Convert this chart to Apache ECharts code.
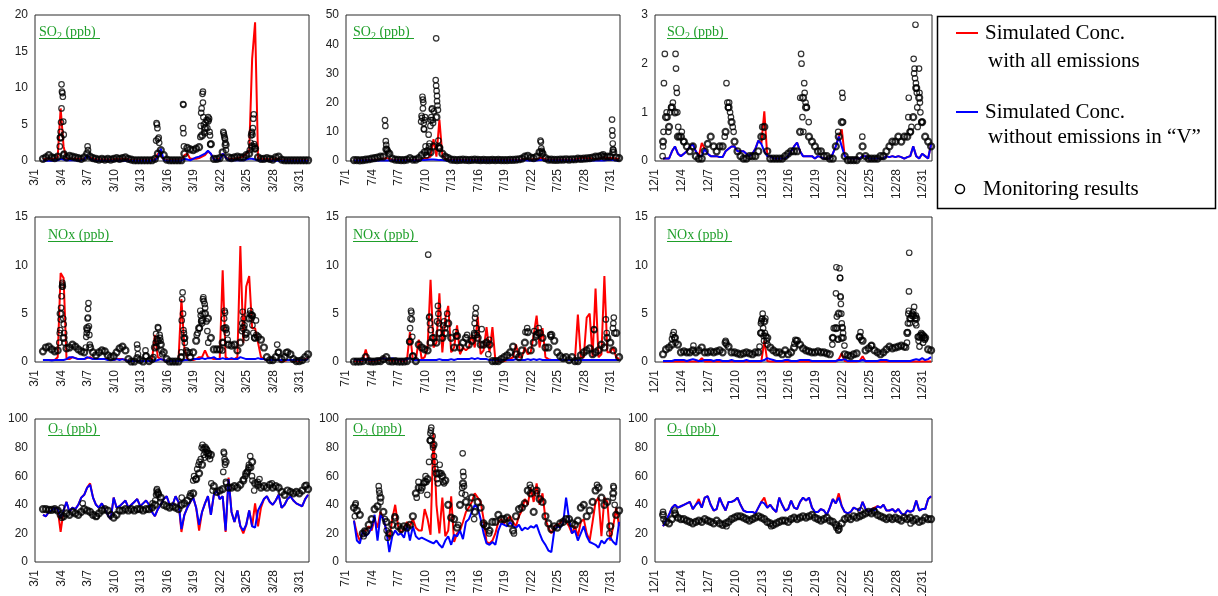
<!DOCTYPE html>
<html>
<head>
<meta charset="utf-8">
<script src="https://cdn.jsdelivr.net/npm/echarts@6/dist/echarts.min.js"></script>
<style>
html, body { margin: 0; padding: 0; background: #fff; }
#chart { width: 1218px; height: 596px; }
</style>
</head>
<body>
<div id="chart"></div>
<script>
// one value every 8 hours, first value 0.9 day after the 1st of the month
const T0 = 0.9
const DT = 1 / 3

// ---- SO2 ----
const so2MarObs = [.3,.5,.8, .5,.4,.6, 3.2,.8,.5, .7,.6,.5, .4,.3,.5, 1,.6,.4, .3,.2,.3, .2,.3,.2, .3,.4,.3, .4,.5,.3,
  .2,.1,.1, .1,.1,.1, .1,.1,.3, 1,1.5,.8, .2,.1,.1, .1,.1,.1, 1,1.8,1.6, 1.5,1.7,1.9, 3.5,4.5,5.5, 2.3,.3,.3,
  .4,1.2,2.2, .5,.4,.5, .6,.5,.5, .8,1,2, 1.7,.5,.3, .3,.4,.3, .2,.5,.6, .2,.1,.1, .1,.1,.1, .1,.1,.1, .1]
const so2MarPeaks = [[2.8,2],[2.85,3.2],[2.9,4],[2.95,5.3],[3,7.2],[3,10.5],[3.05,9.5],[3.1,9.3],[3.15,8.8],[3.2,5.4],[3.25,3.6],[3.3,1],
  [5.95,2],[6,1.5],
  [13.7,2.8],[13.75,5.2],[13.8,5],[13.85,4.5],[13.9,3],[14,3.2],[14.05,2.5],
  [16.75,7.8],[16.8,7.7],[16.75,4.5],[16.8,3.8],[16.85,2],
  [18.7,3.3],[18.75,4.8],[18.8,6.6],[18.85,7.2],[18.95,9.2],[19,9.5],[19,8],[19.05,6],[19.1,5],[19.15,4],[19.2,3.8],[19.3,5.3],[19.4,5.6],[19.5,4.5],[19.6,6],[19.7,5.8],[19.75,4],[19.8,3.5],[19.85,2.3],
  [21.3,4],[21.35,3.8],[21.4,3.5],[21.45,3.2],[21.5,3],[21.55,2.5],[21.6,1.5],
  [24.3,1.5],[24.4,2.5],[24.45,3.5],[24.5,3.8],[24.55,4],[24.6,3.6],[24.65,4.5],[24.7,5.8],[24.75,6.4],[24.8,2.3],[24.85,2],[24.9,1.7]]
const so2MarAll = [.2,.3,.3, .3,.3,.5, 7.2,2,.3, .3,.3,.3, .3,.2,.3, .6,.5,.3, .2,.2,.2, .2,.2,.2, .2,.3,.2, .3,.3,.2,
  .1,.1,.1, .1,.1,.1, .1,.1,.2, 1,.8,.2, .1,.1,.1, .1,.1,.1, .8,1,.3, .3,.3,.4, .6,.8,1.3, 1,.2,.2,
  .3,1,.5, .3,.3,.3, .4,.5,.6, 1,1.3,14, 19,.4,.3, .2,.3,.2, .2,.3,.3, .1,.1,.1, .1,.1,.1, .1,.1,.1, .1]
const so2MarNoV = [.05,.05,.05, .05,.1,.1, .3,.2,.1, .1,.1,.1, .05,.1,.2, .8,.3,.1, .05,.05,.05, .05,.05,.05, .05,.05,.05, .05,.05,.05,
  .05,.05,.05, .05,.05,.05, .05,.05,.1, .5,1.7,.1, .05,.05,.05, .05,.05,.05, .3,.2,.1, .3,.5,.6, .8,1,1.4, 1,.2,.1,
  .1,1,.5, .1,.1,.1, .1,.1,.1, .2,.3,.3, .2,.1,.05, .05,.05,.05, .05,.05,.05, .05,.05,.05, .05,.05,.05, .05,.05,.05, .05]

const so2JulObs = [.3,.3,.2, .3,.5,.6, .8,1,1.2, 1.5,1.5,4, 2.5,.8,.5, .4,.3,.3, .5,1,.5, .5,1,2, 3,3.5,3, 5,15,4.5,
  2.5,1.5,1, .5,.4,.3, .4,.5,.4, .3,.4,.5, .4,.3,.4, .3,.3,.4, .3,.4,.3, .3,.3,.4, .4,.5,.6, .8,1.5,1.8,
  1.2,1,1.5, 3,2.5,1, .5,.5,.4, .4,.5,.5, .6,.5,.6, .6,.8,.7, .8,.9,1, 1.2,1.5,1.5, 1.8,1.5,1.5, 1.5,3,1.2, 1]
const so2JulPeaks = [[4.4,14],[4.45,12],[4.5,6.8],[4.55,5.5],[4.6,4],[4.7,3.5],[4.8,3],
  [8.5,13.5],[8.55,15.5],[8.6,14.8],[8.65,22],[8.7,21],[8.7,18],[8.75,20],[8.8,13],[8.8,11],[8.85,10.8],[8.9,14],[8.95,15],[9,5],[9.1,2],
  [9.35,9],[9.4,5],[9.45,6],[9.55,12],[9.6,14],[9.65,15],[9.7,17.7],[9.75,18],[9.8,14],[9.85,13],[9.95,17],
  [10.15,27.7],[10.2,42],[10.2,25.8],[10.25,24],[10.3,22.3],[10.3,20.5],[10.35,19],[10.4,17.5],[10.45,7],[10.5,5],[10.55,4.5],[10.6,4.3],
  [22,7],[22.05,6.5],[22.1,4.3],[22.15,3.5],[22.2,3],
  [29.1,2.3],
  [30.1,14.2],[30.12,10.5],[30.15,8.7],[30.18,6],[30.2,4],[30.25,3.8]]
const so2JulAll = [.2,.2,.2, .2,.3,.3, .3,.4,.5, .6,.8,1, .8,.4,.3, .3,.3,.3, .3,.3,.3, .3,.4,.5, .8,1,1.5, 7.5,1.5,14.2,
  2,.8,.5, .3,.3,.3, .3,.3,.3, .3,.3,.3, .3,.3,.3, .3,.3,.3, .3,.3,.3, .3,.3,.3, .3,.3,.3, .5,.8,.6,
  .5,.6,.5, 1,1,.6, .4,.4,.4, .4,.4,.4, .4,.4,.4, .5,.8,1, 1.2,.8,1, .8,.6,.8, 1,1.2,1, 1,1,.8, .8]
const so2JulNoV = [.2,.2,.2, .2,.2,.2, .2,.2,.2, .2,.2,.2, .2,.2,.2, .2,.2,.2, .2,.2,.2, .2,.2,.3, .3,.4,.5, .5,.4,.3,
  .3,.2,.2, .2,.2,.2, .2,.2,.2, .2,.2,.2, .2,.2,.2, .2,.2,.2, .2,.2,.2, .2,.2,.2, .2,.2,.2, .2,.3,.2,
  .2,.2,.2, .4,.3,.2, .2,.2,.2, .2,.2,.2, .2,.2,.2, .2,.2,.2, .2,.2,.2, .2,.2,.2, .2,.2,.3, .3,.3,.2, .2]

const so2DecObs = [.4,.9,.7, 1.1,1,.5, .5,.4,.3, .2,.3,.1, .05,.05,.2, .35,.5,.3, .2,.3,.3, .6,1.1,.8, .4,.2,.1, .05,.05,.1,
  .1,.1,.2, .5,.7,.2, .05,.05,.05, .05,.05,.1, .15,.2,.2, .2,.6,1.3, 1.1,.5,.4, .3,.2,.2, .1,.1,.05, .05,.3,.5,
  .8,.1,.02, .02,.02,.02, .1,.3,.1, .05,.05,.05, .05,.1,.1, .2,.3,.4, .4,.5,.4, .5,.5,.6, .9,1.5,1.3, .8,.5,.4, .3]
const so2DecPeaks = [[0.85,.1],[0.9,.3],[0.95,.6],[1,1.6],[1.1,2.2],[1.3,1],[1.4,.9],[1.5,.6],[1.7,1],[1.8,1.1],[2,1.2],[2.3,2.2],[2.35,1.9],[2.4,1.5],[2.45,1.4],[2.5,1],[2.6,.7],[2.7,.5],[3,.6],[3.2,.4],
  [7.8,.5],[8,1.6],[8.1,1.2],[8.2,1.1],[8.3,1.2],[8.4,1],[8.5,.9],[8.7,.7],[8.8,.6],
  [12,.7],[12.1,.5],
  [16.25,1.3],[16.35,2.2],[16.4,2],[16.5,.9],[16.6,.6],[16.7,1.6],[16.75,1.4],[16.85,1.2],[17,1.1],[17.2,.8],
  [20.5,.6],[20.95,1.4],[21,1.3],[21.05,.8],
  [23.2,.5],
  [28.35,.9],[28.4,1.3],[28.6,.6],[28.7,.7],[28.95,2.1],[29,1.8],[29.05,1.9],[29.1,1.7],[29.15,2.8],[29.2,1.6],[29.25,1.5],[29.3,1.4],[29.35,1.1],[29.4,.7],[29.55,1.9],[29.6,1.4],[29.65,1.2],[29.7,1],[29.8,.8],[29.9,.8]]
const so2DecAll = [.05,.05,.05, .2,.3,.15, .1,.15,.2, .3,.35,.2, .1,.37,.25, .15,.1,.1, .1,.08,.08, .2,.25,.3, .3,.2,.2, .2,.15,.1,
  .15,.25,.42, .35,1.02,.1, .1,.05,.05, .05,.05,.05, .1,.2,.3, .38,.2,.1, .1,.1,.1, .05,.1,.08, .05,.05,.05, .15,.3,.5,
  .65,.1,.05, .05,.05,.05, .05,.1,.1, .05,.05,.05, .05,.05,.05, .1,.08,.1, .08,.1,.08, .05,.08,.1, .3,.1,.05, .15,.1,.05, .35]
const so2DecNoV = [.05,.05,.05, .2,.3,.15, .1,.15,.2, .3,.35,.2, .1,.1,.25, .15,.1,.1, .1,.08,.08, .2,.25,.3, .3,.2,.2, .2,.15,.1,
  .15,.25,.42, .35,.2,.1, .1,.05,.05, .05,.05,.05, .1,.2,.3, .38,.2,.1, .1,.1,.1, .05,.1,.08, .05,.05,.05, .15,.3,.5,
  .3,.1,.05, .05,.05,.05, .05,.1,.1, .05,.05,.05, .05,.05,.05, .1,.08,.1, .08,.1,.08, .05,.08,.1, .3,.1,.05, .15,.1,.05, .35]

// ---- NOx ----
const noxMarObs = [1.1,1.5,1.6, 1.3,1.1,1.2, 5,2.5,1.4, 1.5,1.8,1.6, 1.3,1.1,1, 3.5,1.5,1, .7,1,1.2, 1.1,.7,.5, .6,1,1.4, 1.6,1.2,.3,
  .05,.05,.4, .2,.05,.6, .1,.3,1.5, 2.2,1.8,1, .3,.05,.05, .05,.05,.5, 2.5,1,.5, 1,2.2,3.5, 4.3,5,4.5, 2.5,1.3,1.3,
  1.3,2,3.5, 1.8,1.7,1.8, 1.2,2,3.5, 3,4.5,4.8, 2.5,2.6,2.3, 1.5,.5,.2, .2,.5,1, .3,.5,1, .8,.3,.1, .1,.2,.5, .8]
const noxMarPeaks = [[2.75,2],[2.8,3],[2.85,3.3],[2.9,4.4],[2.95,5.6],[3,6.8],[3.05,7.8],[3.1,8],[3.1,8.2],[3.15,7.8],[3.2,4.5],[3.25,3.9],[3.3,3],[3.35,2],
  [5.75,1.5],[5.8,2.6],[5.85,3],[5.9,3.3],[5.95,4.5],[6,4.6],[6,5.5],[6.05,6.1],[6.1,3.7],[6.15,2.8],[6.2,1.8],
  [11.55,1.8],[11.6,1.4],[11.65,.8],[12.5,1.2],[12.55,.6],[13.4,.5],
  [13.65,2],[13.7,2.9],[13.75,1.6],[13.8,2.4],[13.9,3.6],[13.95,3.5],[14.1,2.8],[14.15,2.5],[14.2,2.2],[14.3,1.2],[14.4,.8],
  [16.5,.5],[16.55,1],[16.6,4.3],[16.65,6.5],[16.7,7.2],[16.75,5],[16.8,3.3],[16.85,3],[16.9,2.4],[16.95,2],[17.1,1.2],[17.5,1],
  [18.3,2.8],[18.4,3],[18.6,3.5],[18.7,5.3],[18.75,4.8],[18.8,4.2],[18.9,4],[18.95,5],[19,6.5],[19.05,6.7],[19.1,6.3],[19.2,6],[19.25,5.6],[19.4,4.2],[19.5,3.2],[19.6,2],
  [21.2,1.2],[21.3,2],[21.35,3.5],[21.4,4.5],[21.45,5.3],[21.5,5.1],[21.6,3.3],[21.7,3],[21.8,2.3],
  [23.4,3.2],[23.45,4],[23.5,5.2],[23.6,4.5],[23.7,3.8],[23.8,2.8],[23.9,2.5],[24.3,5],[24.35,5.3],[24.45,4.9],[24.5,4.5],[24.55,4.8],[24.6,3.8],[24.7,3],[24.8,2.5],[25,4.3],[25.05,2.8],
  [27.4,1.8],[27.5,1],[28.4,1]]
const noxMarAll = [.2,.2,.2, .2,.2,.5, 9.2,8.7,.3, .3,.5,.4, .3,.3,.3, .4,.5,.3, .3,.3,.3, .3,.3,.2, .2,.3,.3, .3,.2,.1,
  .1,.1,.1, .1,.1,.1, .1,.2,2.8, .5,.3,.2, .1,.1,.1, .1,.1,6.5, 1.5,.3,.2, .2,.3,.5, .5,1.2,.5, .4,.3,.3,
  .3,9.5,.5, .3,.3,.3, .5,12,2, 7.8,8.9,3.5, 3.5,2,.5, .3,.2,.2, .2,.2,.2, .1,.1,.2, .2,.1,.1, .1,.2,.3, .4]
const noxMarNoV = [.2,.2,.2, .15,.2,.2, .2,.2,.3, .5,.5,.4, .3,.3,.3, .5,.4,.3, .3,.3,.3, .3,.2,.2, .2,.3,.2, .3,.2,.1,
  .1,.1,.1, .1,.1,.1, .1,.1,.1, .2,.3,.2, .1,.1,.1, .1,.1,.1, .2,.2,.2, .3,.3,.3, .4,.3,.4, .4,.5,.3,
  .3,.4,.3, .3,.4,.3, .3,.5,.4, .3,.3,.3, .3,.4,.3, .3,.2,.2, .2,.2,.2, .2,.2,.2, .2,.2,.2, .2,.2,.2, .3]

const noxJulObs = [.05,.05,.05, .1,.5,.1, .05,.05,.1, .1,.3,.5, .1,.05,.1, .05,.05,.05, .1,2.1,.6, .1,1.8,1.5, 1.3,1.2,2, 2.5,2,3,
  2.5,3,4, 2.5,1.5,2.7, 1.5,2,2.5, 1.8,2.2,2.8, 2.5,1.8,1.8, 2,1.8,.1, .1,.1,.3, .5,.7,1, 1.6,.8,.5, 1.2,2,3.1,
  1.2,2,2.8, 3,2.5,1.5, 1.5,2.8,2.2, 1,.6,.4, .5,.2,.5, .1,.1,.7, 1,1.2,1.4, .8,1,1.2, 1.8,1.5,2.5, 2,1.2,3, .5]
const noxJulPeaks = [[7.2,2.1],[7.25,3.5],[7.3,4.5],[7.35,5.3],[7.4,5.1],[7.45,4.4],[7.5,2.6],[7.55,.6],
  [9.3,11.1],[9.4,4.6],[9.45,4.7],[9.5,4],[9.6,3.3],[9.75,2.5],
  [10.3,4.2],[10.4,5.8],[10.45,5],[10.5,4],[11,3.8],[11.1,4.2],[11.2,3.5],[11.45,5],
  [12.4,3.1],[12.5,2.7],[13.7,2.8],
  [14.5,3],[14.55,4],[14.6,4.6],[14.65,5],[14.7,5.6],[14.75,3.5],[14.8,2.8],[15.35,3.4],[16.1,.8],[16.2,2.3],
  [20.3,3.1],[20.5,3.5],[21.3,3.2],[21.5,2.6],[21.7,3],[21.8,3.5],[23.1,2.8],[23.2,2.6],
  [28.05,3.4],[28.1,3.3],[29.4,4.4],[29.5,3],[30.2,3.5],[30.25,4],[30.3,4.6],[30.35,3]]
const noxJulAll = [.1,.1,.1, .1,1.3,.1, .1,.1,.2, .2,.5,.2, .2,.1,.2, .2,.1,.1, .2,3.1,.2, .2,2.3,.3, .5,1.5,8.5, 1.5,2,7.1,
  1,4.5,5.8, 1,1.5,3.8, .8,1.5,1.2, 1.5,2.8,1.5, 4.7,.8,1.2, 3.6,1,3.6, .2,.1,.1, .1,.2,.3, .5,1.8,.5, .5,1.5,.8,
  1,2.8,4.8, 1.5,3.5,.5, .3,.2,.2, .2,.2,.2, .2,.2,.2, .2,4.9,.5, .5,4.6,5, .5,7.6,.5, .8,8.9,1, 1,1.5,.5, .3]
const noxJulNoV = [.3,.2,.2, .2,.3,.2, .2,.2,.3, .3,.4,.3, .3,.4,.3, .2,.3,.2, .3,.4,.2, .2,.2,.2, .2,.2,.2, .2,.2,.3,
  .2,.2,.2, .3,.2,.3, .3,.3,.3, .3,.4,.3, .4,.3,.3, .3,.2,.2, .2,.2,.2, .2,.2,.2, .2,.3,.2, .2,.2,.3,
  .2,.3,.2, .3,.2,.2, .2,.2,.2, .2,.2,.2, .2,.2,.2, .2,.2,.2, .2,.2,.2, .2,.2,.2, .2,.2,.2, .2,.2,.2, .2]

const noxDecObs = [.8,1.3,1.5, 1.8,2.5,1.8, 1,1.1,1, 1,1.2,1, 1.2,1.5,1, 1,1.1,1, 1.1,1.2,1, 2,1.6,1, 1,.9,.8, .9,1,.9,
  .8,1,1, 3,4.2,2.5, 1.5,1.2,1, 1,.8,1.2, .8,1,1.5, 2.2,1.8,1.4, 1.2,1.1,1, 1,1.1,1, 1,.9,.8, 2.5,3.5,5,
  2.5,.8,.7, .6,.8,.9, 2.6,2.2,1.2, 1.4,1.7,1.2, 1,.8,1, 1.3,1.6,1.4, 1.5,1.6,1.7, 1.6,3,4.5, 4.8,4.5,2.6, 2.8,2.5,1.3, 1.2]
const noxDecPeaks = [[1.9,2.4],[2,2.8],[2.1,3.1],[2.2,2.5],[2.3,2],[4.3,1.7],[7.9,2.2],[8,1.8],
  [11.7,1.6],[11.8,3],[11.85,4],[11.9,4.2],[11.95,4.4],[12,4.5],[12.05,5],[12.1,3.5],[12.15,2.7],[12.2,2.2],[12.3,3],[12.35,4.5],[12.4,2.7],[12.5,2.2],[12.6,1.8],
  [15.6,1.9],[15.7,2.3],[15.8,2.2],
  [19.85,1.8],[19.9,2.5],[20,3.5],[20.25,7.1],[20.3,9.8],[20.35,4.7],[20.4,3.5],[20.45,2.4],[20.5,2.3],[20.65,9.7],[20.7,8.7],[20.72,8.7],[20.75,6.8],[20.78,6.7],[20.8,6],[20.85,5],[20.9,4],[20.95,3.6],[21,3.5],[21.05,3],[21.1,2.5],[21.2,1.7],
  [22.9,2.6],[23,3.1],[23.1,2.3],[24.2,1.7],
  [28.1,1.5],[28.2,2],[28.25,3.1],[28.3,4],[28.35,5],[28.4,5.3],[28.42,7.3],[28.45,11.3],[28.5,4],[28.6,4.5],[28.7,4.8],[28.8,5],[28.9,5.2],[29,5.7],[29.1,4.5],[29.15,4],[29.2,4.8],[29.25,3.8],
  [29.4,2.6],[29.5,2.2],[29.6,1.6],[29.7,2.8],[29.8,3],[29.9,2.5],[30,2],[30.1,2.7],[30.15,2.5],[30.2,2.3]]
const noxDecAll = [.05,.05,.05, .05,.05,.05, .05,.05,.05, .05,.05,.05, .05,.4,.05, .05,.05,.05, .05,.05,.05, .05,.05,.05, .05,.05,.05, .05,.05,.05,
  .05,.05,.05, .05,2.2,.1, .05,.05,.05, .05,.05,.05, .05,.05,.05, .05,.05,.05, .05,.05,.05, .05,.05,.05, .05,.05,.05, .05,.05,.3,
  .9,.1,.05, .05,.05,.05, .1,.6,.05, .05,.05,.05, .05,.05,.05, .05,.05,.05, .05,.05,.05, .05,.05,.05, .05,.05,.05, .05,.05,.05, .05]
const noxDecNoV = [.1,.1,.1, .1,.2,.2, .2,.2,.1, .2,.3,.2, .1,.1,.2, .2,.2,.1, .2,.2,.1, .1,.1,.2, .1,.1,.1, .1,.2,.1,
  .1,.1,.1, .1,.2,.4, .3,.2,.1, .1,.1,.2, .2,.1,.1, .1,.2,.2, .2,.2,.1, .1,.1,.1, .1,.1,.1, .1,.1,.2,
  .2,.3,.1, .1,.1,.1, .1,.2,.1, .1,.1,.1, .1,.2,.2, .2,.1,.1, .1,.1,.1, .1,.1,.1, .2,.3,.2, .4,.2,.3, .5]

// ---- O3 ----
const o3MarObs = [37,37,36.5, 36.5,37,36, 33,32,34, 33,35,34, 33,35,37, 36,35,33, 32,34,36, 37,36,33, 31,33,36, 36,37,36,
  37,36,37, 37,36,37, 37,38,40, 48,45,40, 39,38,39, 38,37,40, 41,43,46, 48,58,62, 68,80,76, 75,53,49,
  50,51,70, 52,52,53, 52,54,57, 62,66,70, 55,54,52, 53,52,54, 52,53,52, 49,47,50, 49,48,49, 48,50,53, 51]
const o3MarPeaks = [[3,38],[3.05,31],[5.4,41],[7,32],[13.3,41],[13.6,43],[13.7,47],[13.75,50],[13.8,51],[13.9,49],[14,47],[14.2,42],
  [16.6,45],[17.6,48],[17.9,57],[18,60],[18.2,58],[18.35,65],[18.5,68],[18.6,70],[18.75,72],[18.85,80],[18.95,82],[19.05,79],[19.1,75],[19.2,73],[19.3,77],[19.4,79],[19.5,78],[19.6,74],[19.7,76],[19.8,72],[19.95,55],[20.1,50],
  [21.3,63],[21.35,77],[21.4,76],[21.45,72],[21.5,68],[21.6,56],[21.65,55],
  [23.6,58],[23.8,60],[24,63],[24.1,64],[24.2,68],[24.35,74],[24.45,66],[24.55,60],[24.6,57],[24.8,50],[25.2,56],[25.4,58],
  [26.8,55],[30.7,54]]
const o3MarAll = [33,32,35, 36,38,37, 21,36,42, 35,38,37, 40,45,47, 52,55,45, 40,38,41, 37,33,30, 45,38,39, 41,43,38,
  40,42,44, 39,41,43, 40,35,32, 37,40,44, 46,40,40, 46,42,21, 33,38,42, 45,38,22, 35,41,46, 33,47,50,
  44,46,21, 59,35,28, 36,25,20, 26,36,25, 41,25,38, 44,46,42, 40,43,47, 38,40,44, 46,43,41, 40,39,44, 47]
const o3MarNoV = [33,32,35, 36,38,37, 31,36,42, 35,38,37, 40,45,47, 52,54,45, 40,38,41, 37,33,30, 45,38,39, 41,43,38,
  40,42,44, 39,41,43, 40,35,32, 37,40,44, 46,40,40, 46,42,23, 33,38,42, 45,38,26, 35,41,46, 33,47,50,
  44,46,22, 58,35,28, 36,25,22, 26,36,25, 24,36,40, 44,46,42, 40,43,47, 38,40,44, 46,43,41, 40,39,44, 47]

const o3JulObs = [38,36,33, 20,21,26, 30,37,39, 45,35,28, 20,26,31, 25,23,25, 24,26,32, 48,52,52, 56,58,85, 82,62,62,
  60,57,40, 31,30,24, 40,55,42, 38,45,35, 42,38,27, 25,22,28, 28,33,30, 30,31,27, 22,32,37, 38,41,50,
  48,35,50, 44,42,32, 27,23,25, 24,27,28, 30,30,27, 26,29,38, 40,32,36, 42,50,52, 45,40,42, 25,48,33, 36]
const o3JulPeaks = [[1,32],[1.05,40],[1.1,41],[2,18],[2.1,22],[3.7,53],[3.75,50],[3.8,48],[3.9,42],[4.4,30],[4.6,22],[4.7,17],[5.5,32],
  [8,45],[8.2,56],[8.5,50],[8.8,55],[9,60],[9.1,56],[9.2,47],[9.4,70],[9.5,85],[9.55,90],[9.6,92],[9.65,94],[9.8,88],[9.85,80],[9.95,74],[10.05,70],[10.1,65],[10.3,58],[10.4,55],[10.6,68],[10.8,62],[11,56],[11.1,55],
  [12.7,26],[13.1,48],[13.15,52],[13.2,76],[13.25,63],[13.3,60],[13.35,53],[13.5,47],
  [14.5,30],[15.6,26],[16.2,20],[19,20],[20.8,54],[20.9,52],[21.6,48],
  [28.4,54],[29.8,20],[30.2,45],[30.25,53],[30.3,52],[30.4,40]]
const o3JulAll = [29,20,15, 20,22,25, 22,30,24, 35,30,22, 16,30,40, 25,20,24, 28,25,30, 24,22,22, 37,30,19, 90,40,20,
  45,18,22, 46,14,20, 22,28,35, 38,42,48, 45,42,30, 14,13,15, 20,28,30, 27,30,32, 28,25,32, 36,44,40,
  52,42,55, 40,48,30, 24,20,25, 26,27,30, 28,25,20, 25,18,28, 30,20,15, 28,42,45, 18,45,42, 15,25,38, 25]
const o3JulNoV = [29,15,13, 22,18,20, 24,33,15, 33,30,22, 7,18,22, 19,20,17, 26,15,25, 18,16,17, 16,15,14, 13,15,12,
  10,15,18, 12,19,18, 22,16,28, 30,35,40, 38,30,20, 13,12,14, 12,22,27, 26,25,28, 25,24,26, 22,24,23,
  25,24,26, 20,15,12, 8,7,22, 25,24,27, 45,30,20, 22,15,20, 25,18,14, 13,12,10, 15,13,16, 17,14,12, 28]

const o3DecObs = [33,28,27, 30,34,31, 30,30,29, 28,27,28, 29,28,30, 29,28,27, 29,27,26, 27,28,30, 31,32,32, 31,30,29,
  30,31,32, 31,30,28, 27,26,27, 28,29,29, 28,30,31, 30,31,32, 31,32,33, 31,30,29, 30,31,29, 28,26,23,
  27,30,31, 30,32,31, 32,33,34, 35,34,35, 33,32,31, 30,31,30, 31,30,29, 31,30,31, 29,30,28, 29,31,30, 30]
const o3DecPeaks = [[0.9,35],[0.95,30],[2.2,36],[2.3,33],[8,25],[13,25],[20.3,24],[20.5,22],[20.6,25],[23,36],[24.5,36],[28.6,27]]
const o3DecAll = [25,29,33, 38,40,38, 39,40,41, 42,37,40, 44,38,45, 46,40,36, 37,45,40, 36,42,42, 43,45,40, 36,35,35,
  35,34,38, 42,45,38, 40,37,35, 45,40,36, 37,43,38, 37,42,45, 43,45,38, 35,35,37, 36,33,38, 44,41,48,
  39,35,34, 35,38,37, 36,42,37, 35,37,38, 39,38,40, 36,36,37, 35,37,34, 33,36,35, 36,43,36, 37,37,44, 46]
const o3DecNoV = [25,29,33, 38,40,38, 39,40,41, 42,37,40, 42,38,45, 46,40,36, 37,45,40, 36,42,42, 43,45,40, 36,35,35,
  35,34,38, 42,41,38, 40,37,35, 45,40,36, 37,43,38, 37,42,45, 43,45,38, 35,35,37, 36,33,38, 44,41,45,
  39,35,34, 35,38,37, 36,42,37, 35,37,36, 39,38,40, 36,36,37, 35,37,34, 33,36,35, 36,43,36, 37,37,44, 46]

// ---- layout ----
const colLeft = [35, 346, 655]
const colWidth = [274, 274, 277]
const rowTop = [15, 217, 419]
const rowHeight = [146, 145, 143]

const RED = '#ff0000'
const BLUE = '#0000ff'
const GREEN = '#1f9f2a'

const titles = {
    SO2: { text: '{a|SO}{b|2}{a| (ppb)}', w: 61 },
    NOx: { text: '{a|NOx (ppb)}', w: 65 },
    O3: { text: '{a|O}{b|3}{a| (ppb)}', w: 52 }
}

const panels = [
    { row: 0, col: 0, mon: 3,  gas: 'SO2', max: 20,  step: 5,  tx: 4,  ty: 17, obs: so2MarObs, pk: so2MarPeaks, all: so2MarAll, noV: so2MarNoV },
    { row: 0, col: 1, mon: 7,  gas: 'SO2', max: 50,  step: 10, tx: 7,  ty: 17, obs: so2JulObs, pk: so2JulPeaks, all: so2JulAll, noV: so2JulNoV },
    { row: 0, col: 2, mon: 12, gas: 'SO2', max: 3,   step: 1,  tx: 12, ty: 17, obs: so2DecObs, pk: so2DecPeaks, all: so2DecAll, noV: so2DecNoV },
    { row: 1, col: 0, mon: 3,  gas: 'NOx', max: 15,  step: 5,  tx: 13, ty: 18, obs: noxMarObs, pk: noxMarPeaks, all: noxMarAll, noV: noxMarNoV },
    { row: 1, col: 1, mon: 7,  gas: 'NOx', max: 15,  step: 5,  tx: 7,  ty: 18, obs: noxJulObs, pk: noxJulPeaks, all: noxJulAll, noV: noxJulNoV },
    { row: 1, col: 2, mon: 12, gas: 'NOx', max: 15,  step: 5,  tx: 12, ty: 18, obs: noxDecObs, pk: noxDecPeaks, all: noxDecAll, noV: noxDecNoV },
    { row: 2, col: 0, mon: 3,  gas: 'O3',  max: 100, step: 20, tx: 13, ty: 10, obs: o3MarObs, pk: o3MarPeaks, all: o3MarAll, noV: o3MarNoV },
    { row: 2, col: 1, mon: 7,  gas: 'O3',  max: 100, step: 20, tx: 7,  ty: 10, obs: o3JulObs, pk: o3JulPeaks, all: o3JulAll, noV: o3JulNoV },
    { row: 2, col: 2, mon: 12, gas: 'O3',  max: 100, step: 20, tx: 12, ty: 10, obs: o3DecObs, pk: o3DecPeaks, all: o3DecAll, noV: o3DecNoV }
]

function toXY(arr) {
    return arr.map((v, i) => [T0 + i * DT, v])
}

let grids = [], xAxes = [], yAxes = [], series = [], graphics = []

panels.forEach((p, i) => {
    let left = colLeft[p.col], top = rowTop[p.row]
    grids.push({
        left: left, top: top, width: colWidth[p.col], height: rowHeight[p.row],
        outerBoundsMode: 'none', containLabel: false,
        show: true, borderColor: '#2a2a2a', borderWidth: 1, backgroundColor: '#fff'
    })
    xAxes.push({
        gridIndex: i, type: 'value', min: 0, max: 31, interval: 3,
        axisLine: { show: false }, axisTick: { show: false }, splitLine: { show: false },
        axisLabel: {
            rotate: 90, margin: 8, fontSize: 12, color: '#222', fontFamily: 'Liberation Sans, Arial',
            showMaxLabel: false,
            formatter: v => (v % 3 === 0 && v <= 30) ? p.mon + '/' + (v + 1) : ''
        }
    })
    yAxes.push({
        gridIndex: i, type: 'value', min: 0, max: p.max, interval: p.step,
        axisLine: { show: false }, axisTick: { show: false }, splitLine: { show: false },
        axisLabel: { margin: 7, fontSize: 12, color: '#222', fontFamily: 'Liberation Sans, Arial' }
    })
    series.push({
        name: 'Simulated Conc. with all emissions', type: 'line', xAxisIndex: i, yAxisIndex: i,
        data: toXY(p.all), showSymbol: false, z: 2,
        lineStyle: { color: RED, width: 2 }, itemStyle: { color: RED }
    })
    series.push({
        name: 'Simulated Conc. without emissions in "V"', type: 'line', xAxisIndex: i, yAxisIndex: i,
        data: toXY(p.noV), showSymbol: false, z: 3,
        lineStyle: { color: BLUE, width: 2 }, itemStyle: { color: BLUE }
    })
    // hourly monitoring results overlap so much that the run reads as a thick black band
    series.push({
        name: 'Monitoring results', type: 'scatter', xAxisIndex: i, yAxisIndex: i,
        data: toXY(p.obs), symbol: 'circle', symbolSize: 6, z: 4,
        itemStyle: { color: 'rgba(0,0,0,0)', borderColor: '#000', borderWidth: 2.2 }
    })
    series.push({
        name: 'Monitoring results', type: 'scatter', xAxisIndex: i, yAxisIndex: i,
        data: p.pk, symbol: 'circle', symbolSize: 5.5, z: 4,
        itemStyle: { color: 'rgba(0,0,0,0)', borderColor: '#000', borderWidth: 1.2 }
    })

    // panel caption, green and underlined
    let t = titles[p.gas]
    let tx = left + p.tx, ty = top + p.ty
    graphics.push({
        type: 'text', x: tx, y: ty, z: 10,
        style: {
            text: t.text, align: 'left', verticalAlign: 'middle',
            textAlign: 'left', textVerticalAlign: 'middle',
            rich: {
                a: { fill: GREEN, fontSize: 14, fontFamily: 'Liberation Serif', lineHeight: 18, verticalAlign: 'middle' },
                b: { fill: GREEN, fontSize: 10, fontFamily: 'Liberation Serif', lineHeight: 10, verticalAlign: 'bottom' }
            }
        }
    })
    graphics.push({
        type: 'line', z: 10,
        shape: { x1: tx, y1: ty + 6.5, x2: tx + t.w, y2: ty + 6.5 },
        style: { stroke: GREEN, lineWidth: 1 }
    })
})

// legend box on the right
const legendFont = '21px "Liberation Serif"'
graphics.push(
    { type: 'rect', shape: { x: 937.5, y: 16.5, width: 278, height: 192 }, style: { fill: '#fff', stroke: '#000', lineWidth: 1.5 } },
    { type: 'line', shape: { x1: 956, y1: 33, x2: 978, y2: 33 }, style: { stroke: RED, lineWidth: 2 } },
    { type: 'text', x: 985, y: 33, style: { text: 'Simulated Conc.', font: legendFont, fill: '#000', verticalAlign: 'middle', textVerticalAlign: 'middle' } },
    { type: 'text', x: 988, y: 61, style: { text: 'with all emissions', font: legendFont, fill: '#000', verticalAlign: 'middle', textVerticalAlign: 'middle' } },
    { type: 'line', shape: { x1: 956, y1: 112, x2: 978, y2: 112 }, style: { stroke: BLUE, lineWidth: 2 } },
    { type: 'text', x: 985, y: 112, style: { text: 'Simulated Conc.', font: legendFont, fill: '#000', verticalAlign: 'middle', textVerticalAlign: 'middle' } },
    { type: 'text', x: 988, y: 137, style: { text: 'without emissions in \u201cV\u201d', font: legendFont, fill: '#000', verticalAlign: 'middle', textVerticalAlign: 'middle' } },
    { type: 'circle', shape: { cx: 960, cy: 189, r: 4.5 }, style: { fill: '#fff', stroke: '#000', lineWidth: 1.5 } },
    { type: 'text', x: 983, y: 189, style: { text: 'Monitoring results', font: legendFont, fill: '#000', verticalAlign: 'middle', textVerticalAlign: 'middle' } }
)

let myChart = echarts.init(document.getElementById('chart'))
myChart.setOption({
    animation: false,
    grid: grids,
    xAxis: xAxes,
    yAxis: yAxes,
    series: series,
    graphic: graphics
})
window.addEventListener('resize', function() {
    myChart.resize()
})
</script>
</body>
</html>
